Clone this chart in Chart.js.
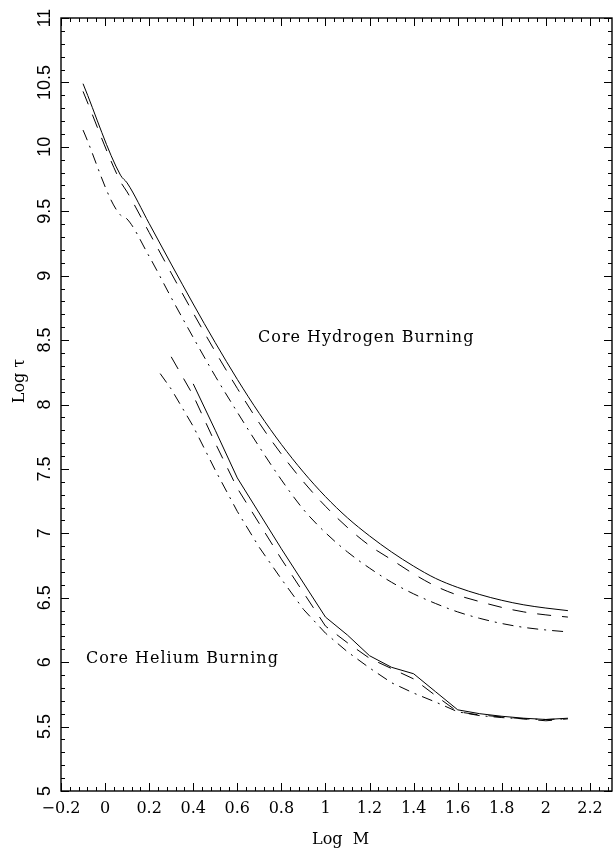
<!DOCTYPE html>
<html>
<head>
<meta charset="utf-8">
<title>Log tau x Log M</title>
<script src="https://cdn.jsdelivr.net/npm/chart.js@4.4.1/dist/chart.umd.min.js"></script>
<style>
  body { margin: 0; background: #fff; }
  canvas { display: block; }
</style>
</head>
<body>
<canvas id="canvas" width="613" height="850"></canvas>
<script>
// queima de hidrogenio no nucleo (tres curvas de cima)
var massaH = [-0.1, 0.07, 0.1, 0.2, 0.3, 0.4, 0.5, 0.6, 0.7, 0.8, 0.9, 1.0, 1.1, 1.2, 1.3, 1.4, 1.5, 1.6, 1.7, 1.8, 1.9, 2.0, 2.1];
var tauHCheia = [10.49, 9.78, 9.72, 9.405, 9.09, 8.78, 8.48, 8.195, 7.93, 7.69, 7.475, 7.285, 7.12, 6.98, 6.855, 6.745, 6.65, 6.58, 6.525, 6.48, 6.445, 6.42, 6.40];
var tauHTraco = [10.43, 9.73, 9.65, 9.335, 9.02, 8.71, 8.41, 8.125, 7.855, 7.615, 7.40, 7.21, 7.045, 6.905, 6.795, 6.685, 6.59, 6.52, 6.47, 6.425, 6.39, 6.367, 6.35];
var massaHPonto = [-0.1, 0.07, 0.09, 0.2, 0.3, 0.4, 0.5, 0.6, 0.7, 0.8, 0.9, 1.0, 1.1, 1.2, 1.3, 1.4, 1.5, 1.6, 1.7, 1.8, 1.9, 2.0, 2.1];
var tauHPonto = [10.13, 9.47, 9.455, 9.15, 8.83, 8.52, 8.22, 7.94, 7.67, 7.415, 7.185, 7.005, 6.855, 6.73, 6.62, 6.53, 6.455, 6.39, 6.34, 6.30, 6.27, 6.25, 6.235];

// queima de helio no nucleo (tres curvas de baixo)
var massaHeCheia = [0.4, 0.5, 0.6, 0.8, 1.0, 1.1, 1.2, 1.3, 1.4, 1.5, 1.6, 1.7, 1.8, 1.9, 2.0, 2.1];
var tauHeCheia = [8.16, 7.80, 7.43, 6.88, 6.35, 6.21, 6.05, 5.96, 5.91, 5.77, 5.63, 5.60, 5.58, 5.565, 5.555, 5.565];
var massaHeTraco = [0.3, 0.4, 0.5, 0.6, 0.8, 1.0, 1.1, 1.2, 1.3, 1.4, 1.5, 1.6, 1.7, 1.8, 1.9, 2.0, 2.1];
var tauHeTraco = [8.37, 8.07, 7.70, 7.35, 6.80, 6.28, 6.15, 6.03, 5.95, 5.87, 5.74, 5.615, 5.59, 5.575, 5.56, 5.545, 5.56];
var massaHePonto = [0.25, 0.3, 0.4, 0.5, 0.6, 0.7, 0.8, 0.9, 1.0, 1.1, 1.2, 1.3, 1.4, 1.5, 1.6, 1.7, 1.8, 1.9, 2.0, 2.1];
var tauHePonto = [8.24, 8.12, 7.83, 7.49, 7.17, 6.89, 6.645, 6.41, 6.225, 6.08, 5.955, 5.84, 5.76, 5.69, 5.615, 5.585, 5.57, 5.56, 5.555, 5.56];

var ticksX = [-0.2, 0, 0.2, 0.4, 0.6, 0.8, 1, 1.2, 1.4, 1.6, 1.8, 2, 2.2];
var ticksY = [5, 5.5, 6, 6.5, 7, 7.5, 8, 8.5, 9, 9.5, 10, 10.5, 11];

var TRACO = [14, 11];
var TRACO_PONTO = [11, 6, 2, 6];

function pontos(xs, ys){
  var lista = [];
  for (var i = 0; i < xs.length; i++){
    lista.push({x: xs[i], y: ys[i]});
  }
  return lista;
}

function serie(nome, xs, ys, dash, suave){
  return {
    label: nome,
    data: pontos(xs, ys),
    borderColor: '#000',
    borderWidth: 1,
    borderDash: dash,
    pointRadius: 0,
    fill: false,
    tension: 0,
    cubicInterpolationMode: suave ? 'monotone' : 'default'
  };
}

function rotulo(v){
  return String(v).replace('-', '\u2212');
}

// caixa, ticks para dentro nos quatro lados e os textos
var eixos = {
  id: 'eixos',
  afterDraw: function(chart){
    var ctx = chart.ctx;
    var a = chart.chartArea;
    var sx = chart.scales.x, sy = chart.scales.y;
    ctx.save();
    ctx.strokeStyle = '#000';
    ctx.fillStyle = '#000';
    ctx.lineWidth = 1.4;
    ctx.strokeRect(a.left, a.top, a.right - a.left, a.bottom - a.top);

    ctx.lineWidth = 1;
    ctx.beginPath();
    for (var i = 0; i <= 62; i++){
      var px = Math.round(sx.getPixelForValue(-0.2 + i * 0.04)) + 0.5;
      var len = (i % 5 == 0) ? 8 : 4;
      ctx.moveTo(px, a.bottom); ctx.lineTo(px, a.bottom - len);
      ctx.moveTo(px, a.top); ctx.lineTo(px, a.top + len);
    }
    for (var j = 0; j <= 60; j++){
      var py = Math.round(sy.getPixelForValue(5 + j * 0.1)) + 0.5;
      var len2 = (j % 5 == 0) ? 8 : 4;
      ctx.moveTo(a.left, py); ctx.lineTo(a.left + len2, py);
      ctx.moveTo(a.right, py); ctx.lineTo(a.right - len2, py);
    }
    ctx.stroke();

    // numeros do eixo x
    ctx.font = '16px "DejaVu Serif"';
    ctx.textAlign = 'center';
    ctx.textBaseline = 'alphabetic';
    for (var k = 0; k < ticksX.length; k++){
      ctx.fillText(rotulo(ticksX[k]), sx.getPixelForValue(ticksX[k]), 813);
    }

    // numeros do eixo y, girados
    ctx.font = '18px "Liberation Sans"';
    for (var m = 0; m < ticksY.length; m++){
      ctx.save();
      ctx.translate(50, sy.getPixelForValue(ticksY[m]));
      ctx.rotate(-Math.PI / 2);
      ctx.fillText(rotulo(ticksY[m]), 0, 0);
      ctx.restore();
    }

    // titulos dos eixos
    ctx.font = '16px "DejaVu Serif"';
    ctx.textAlign = 'left';
    ctx.fillText('Log  M', 312, 844);
    ctx.save();
    ctx.translate(24, 381);
    ctx.rotate(-Math.PI / 2);
    ctx.textAlign = 'center';
    ctx.fillText('Log \u03c4', 0, 0);
    ctx.restore();

    // legendas das duas fases
    ctx.textAlign = 'left';
    ctx.letterSpacing = '1px';
    ctx.fillText('Core Hydrogen Burning', sx.getPixelForValue(0.694), sy.getPixelForValue(8.489));
    ctx.fillText('Core Helium Burning', sx.getPixelForValue(-0.087), sy.getPixelForValue(5.991));
    ctx.restore();
  }
};

var ctx = document.getElementById('canvas').getContext('2d');
var grafico = new Chart(ctx, {
  type: 'line',
  data: {
    datasets: [
      serie('H cheia', massaH, tauHCheia, [], true),
      serie('H tracejada', massaH, tauHTraco, TRACO, true),
      serie('H traco-ponto', massaHPonto, tauHPonto, TRACO_PONTO, true),
      serie('He cheia', massaHeCheia, tauHeCheia, [], false),
      serie('He tracejada', massaHeTraco, tauHeTraco, TRACO, false),
      serie('He traco-ponto', massaHePonto, tauHePonto, TRACO_PONTO, false)
    ]
  },
  options: {
    responsive: false,
    animation: false,
    layout: { padding: { left: 61, top: 18, right: 1, bottom: 59 } },
    plugins: {
      legend: { display: false },
      tooltip: { enabled: false }
    },
    scales: {
      x: { type: 'linear', min: -0.2, max: 2.3, display: false },
      y: { type: 'linear', min: 5, max: 11, display: false }
    }
  },
  plugins: [eixos]
});
</script>
</body>
</html>
